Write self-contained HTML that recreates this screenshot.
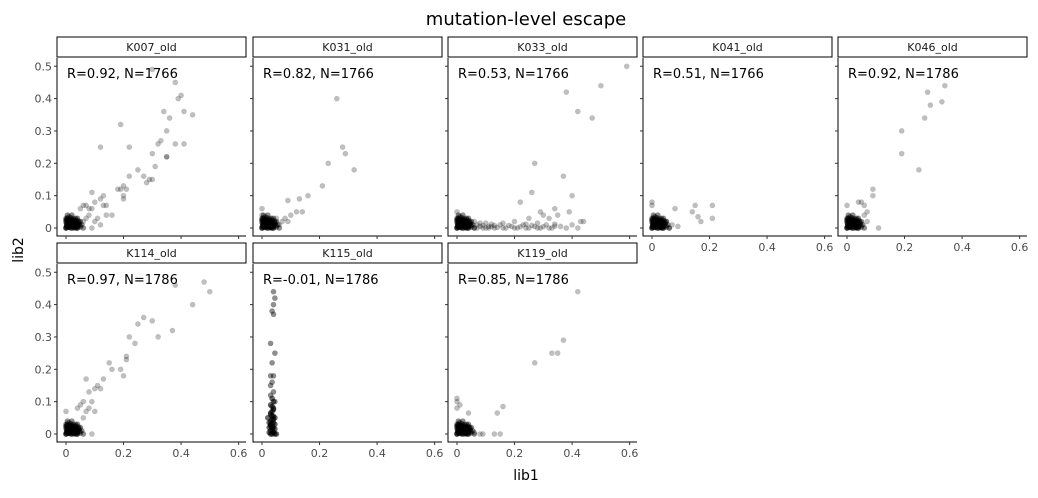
<!DOCTYPE html>
<html><head><meta charset="utf-8"><style>
body{margin:0;background:#fff;font-family:"Liberation Sans","DejaVu Sans",sans-serif}
</style></head><body>
<svg id="chart" width="1038" height="493" xmlns="http://www.w3.org/2000/svg" font-family="DejaVu Sans, Liberation Sans, sans-serif">
<text x="526" y="25" font-size="18" text-anchor="middle">mutation-level escape</text>
<text x="526" y="480" font-size="14" text-anchor="middle">lib1</text>
<text x="23" y="250" font-size="14" text-anchor="middle" transform="rotate(-90 23 250)">lib2</text>
<g id="panels"></g>
</svg>
<script>
const panelNames=["K007_old","K031_old","K033_old","K041_old","K046_old","K114_old","K115_old","K119_old"];
const panelLabels=["R=0.92, N=1766","R=0.82, N=1766","R=0.53, N=1766","R=0.51, N=1766","R=0.92, N=1786","R=0.97, N=1786","R=-0.01, N=1786","R=0.85, N=1786"];
const xTicks=[0,0.2,0.4,0.6];
const xTickLabels=["0","0.2","0.4","0.6"];
const yTicks=[0,0.1,0.2,0.3,0.4,0.5];
const yTickLabels=["0","0.1","0.2","0.3","0.4","0.5"];
const originCluster=[[0,0],[0.005,0.01],[0.01,0.02],[0.015,0.005],[0.02,0.015],[0.025,0.03],[0.03,0.01],[0.035,0.02],[0.04,0.005],[0.045,0.012],[0.05,0.003],[0.0,0.03],[0.005,0.04],[0.01,0.035],[0.02,0.04],[0.03,0.025],[0.04,0.03],[0.05,0.02],[0.055,0.01],[0.06,0.0],[0.002,0.008],[0.008,0.002],[0.012,0.012],[0.018,0.022],[0.022,0.008],[0.028,0.018],[0.032,0.0],[0.038,0.012],[0.042,0.022],[0.048,0.008],[0.0,0.018],[0.003,0.025],[0.007,0.015],[0.013,0.028],[0.017,0.0],[0.023,0.02],[0.027,0.005],[0.033,0.03],[0.037,0.0],[0.043,0.015],[0.001,0.004],[0.006,0.022],[0.011,0.007],[0.016,0.032],[0.021,0.026],[0.026,0.012],[0.031,0.004],[0.036,0.024],[0.041,0.009],[0.046,0.018]];
const denseCore=[[0,0],[0.004,0.004],[0.008,0.008],[0.012,0.002],[0.016,0.012],[0.02,0.006],[0.024,0.016],[0.028,0.002],[0.032,0.01],[0.036,0.004],[0.002,0.014],[0.006,0.02],[0.01,0.026],[0.014,0.018],[0.018,0.024],[0.022,0.0],[0.026,0.022],[0.03,0.014],[0.034,0.018],[0.04,0.0],[0.0,0.024],[0.004,0.03],[0.012,0.01],[0.02,0.02],[0.028,0.008]];
const k007=[[0.3,0.49],[0.38,0.45],[0.4,0.41],[0.39,0.4],[0.41,0.36],[0.44,0.35],[0.34,0.36],[0.36,0.34],[0.35,0.3],[0.33,0.27],[0.32,0.26],[0.38,0.26],[0.41,0.26],[0.35,0.22],[0.35,0.22],[0.12,0.25],[0.19,0.32],[0.22,0.25],[0.3,0.23],[0.31,0.19],[0.25,0.18],[0.27,0.16],[0.29,0.15],[0.3,0.15],[0.28,0.14],[0.22,0.16],[0.2,0.13],[0.21,0.12],[0.19,0.12],[0.2,0.1],[0.18,0.12],[0.2,0.09],[0.13,0.1],[0.09,0.11],[0.12,0.09],[0.1,0.08],[0.13,0.07],[0.14,0.07],[0.07,0.07],[0.08,0.06],[0.09,0.06],[0.05,0.06],[0.06,0.07],[0.16,0.04],[0.11,0.03],[0.1,0.02],[0.08,0.04],[0.09,0.0],[0.12,0.01],[0.14,0.04],[0.07,0.03],[0.06,0.02]];
const k031=[[0.26,0.4],[0.28,0.25],[0.29,0.23],[0.23,0.2],[0.32,0.18],[0.21,0.13],[0.16,0.1],[0.13,0.09],[0.09,0.085],[0.12,0.05],[0.14,0.05],[0.08,0.03],[0.1,0.04],[0.07,0.02],[0.05,0.03],[0.0,0.06],[0.0,0.04],[0.06,0.01],[0.09,0.02]];
const k033=[[0.59,0.5],[0.5,0.44],[0.38,0.42],[0.42,0.36],[0.47,0.34],[0.27,0.2],[0.37,0.16],[0.26,0.11],[0.4,0.1],[0.34,0.06],[0.29,0.05],[0.3,0.04],[0.39,0.05],[0.35,0.04],[0.22,0.08],[0.25,0.03],[0.43,0.02],[0.44,0.02],[0.32,0.03],[0.2,0.02],[0.07,0.01],[0.09,0.0],[0.11,0.005],[0.13,0.0],[0.15,0.01],[0.17,0.0],[0.19,0.005],[0.21,0.0],[0.23,0.01],[0.25,0.0],[0.27,0.005],[0.29,0.0],[0.31,0.01],[0.33,0.0],[0.36,0.005],[0.38,0.0],[0.4,0.01],[0.42,0.0],[0.08,0.015],[0.12,0.012],[0.16,0.015],[0.24,0.012],[0.28,0.015],[0.34,0.012],[0.0,0.05],[0.06,0.0],[0.08,0.005],[0.1,0.0],[0.12,0.004],[0.14,0.002],[0.16,0.0],[0.18,0.008],[0.2,0.0],[0.22,0.004],[0.24,0.0],[0.26,0.008],[0.28,0.0],[0.3,0.004],[0.32,0.0],[0.34,0.006],[0.05,0.01],[0.07,0.0],[0.09,0.008],[0.11,0.0],[0.13,0.008],[0.06,0.02],[0.1,0.015]];
const k041=[[0.15,0.07],[0.14,0.05],[0.16,0.035],[0.17,0.02],[0.21,0.07],[0.21,0.03],[0.08,0.06],[0.05,0.02],[0.0,0.07],[0.0,0.08],[0.07,0.01],[0.09,0.005],[0.06,0.0]];
const k046=[[0.34,0.44],[0.33,0.39],[0.29,0.38],[0.28,0.42],[0.27,0.34],[0.19,0.3],[0.19,0.23],[0.25,0.18],[0.09,0.12],[0.09,0.1],[0.05,0.08],[0.06,0.07],[0.04,0.08],[0.07,0.05],[0.06,0.04],[0.11,0.0],[0.07,0.02],[0.0,0.07]];
const k114=[[0.5,0.44],[0.48,0.47],[0.38,0.46],[0.44,0.4],[0.37,0.32],[0.3,0.35],[0.27,0.36],[0.32,0.3],[0.25,0.34],[0.24,0.28],[0.22,0.3],[0.21,0.23],[0.21,0.24],[0.19,0.2],[0.2,0.18],[0.15,0.22],[0.16,0.2],[0.13,0.17],[0.07,0.17],[0.11,0.15],[0.1,0.14],[0.12,0.14],[0.08,0.13],[0.09,0.1],[0.06,0.1],[0.05,0.09],[0.1,0.07],[0.07,0.07],[0.04,0.08],[0.0,0.07],[0.09,0.0],[0.06,0.05],[0.08,0.08]];
const k115=[[0.04,0.44],[0.045,0.42],[0.04,0.4],[0.035,0.38],[0.04,0.37],[0.03,0.28],[0.045,0.25],[0.035,0.22],[0.03,0.18],[0.04,0.18],[0.035,0.16],[0.03,0.15],[0.04,0.13],[0.03,0.12],[0.045,0.1],[0.02,0.05],[0.03,0.09],[0.04,0.08],[0.035,0.07],[0.03,0.06],[0.04,0.055],[0.035,0.045],[0.03,0.04],[0.04,0.035],[0.035,0.03],[0.03,0.025],[0.04,0.02],[0.035,0.015],[0.03,0.01],[0.04,0.005],[0.035,0.0],[0.03,0.0],[0.045,0.0],[0.05,0.0],[0.025,0.005],[0.045,0.015],[0.025,0.02],[0.045,0.03],[0.025,0.035],[0.045,0.05],[0.03,0.065],[0.04,0.075],[0.035,0.085],[0.04,0.1],[0.035,0.11],[0.04,0.005],[0.035,0.02],[0.03,0.03],[0.04,0.045],[0.035,0.055]];
const k119=[[0.42,0.44],[0.37,0.29],[0.33,0.25],[0.35,0.25],[0.27,0.22],[0.16,0.085],[0.14,0.065],[0.04,0.065],[0.0,0.11],[0.0,0.1],[0.01,0.09],[0.0,0.08],[0.04,0.02],[0.09,0.0],[0.13,0.0],[0.15,0.0],[0.06,0.005],[0.08,0.0]];
const dense=originCluster.concat(originCluster,denseCore,denseCore,denseCore);
const panelData=[k007.concat(dense),k031.concat(dense),k033.concat(dense),k041.concat(dense),k046.concat(dense),k114.concat(dense),k115.concat(k115,k115.slice(15)),k119.concat(dense)];

const NS="http://www.w3.org/2000/svg";
const root=document.getElementById('panels');
const lefts=[57,253,448,643,838];
const W=189;
function mk(tag,attrs,parent){const e=document.createElementNS(NS,tag);for(const k in attrs)e.setAttribute(k,attrs[k]);parent.appendChild(e);return e;}
panelNames.forEach((name,i)=>{
  const row=i<5?0:1, col=i<5?i:i-5;
  const L=lefts[col], stripTop=row?243:37, plotTop=stripTop+21, bottom=row?442:236;
  const x=v=>L+9+v*287.7;
  const y=v=>bottom-8-v*323.5;
  const g=mk('g',{},root);
  
  
  const strip=mk('rect',{x:L,y:stripTop,width:W,height:20,fill:'#fff',stroke:'#000','stroke-width':1},g);
  
  
  const st=mk('text',{x:L+W/2,y:stripTop+14,'font-size':11,'text-anchor':'middle',fill:'#1a1a1a'},g);
  st.textContent=name;
  
  
  const ax=mk('path',{d:`M${L} ${plotTop}V${bottom}H${L+W}`,fill:'none',stroke:'#000','stroke-width':1},g);
  
  
  panelData[i].forEach(p=>{
    const c=mk('circle',{cx:x(p[0]).toFixed(1),cy:y(p[1]).toFixed(1),r:2.6,fill:'rgba(0,0,0,0.25)',stroke:'rgba(0,0,0,0.1)','stroke-width':0.6},g);
    
    
  });
  const an=mk('text',{x:L+10,y:plotTop+20,'font-size':13,fill:'#000'},g);
  an.textContent=panelLabels[i];
  
  
  const showX = row===1 || col>=3;
  xTicks.forEach((t,k)=>{
    mk('line',{x1:x(t),x2:x(t),y1:bottom,y2:bottom+3,stroke:'#333'},g);
    if(showX){const tl=mk('text',{x:x(t),y:bottom+15,'font-size':11,'text-anchor':'middle',fill:'#4d4d4d'},g);
      tl.textContent=xTickLabels[k];
      
      }
  });
  yTicks.forEach((t,k)=>{
    mk('line',{x1:L-3,x2:L,y1:y(t),y2:y(t),stroke:'#333'},g);
    if(col===0){const tl=mk('text',{x:L-5,y:y(t)+4,'font-size':11,'text-anchor':'end',fill:'#4d4d4d'},g);
      tl.textContent=yTickLabels[k];
      
      }
  });
});
</script>
</body></html>
